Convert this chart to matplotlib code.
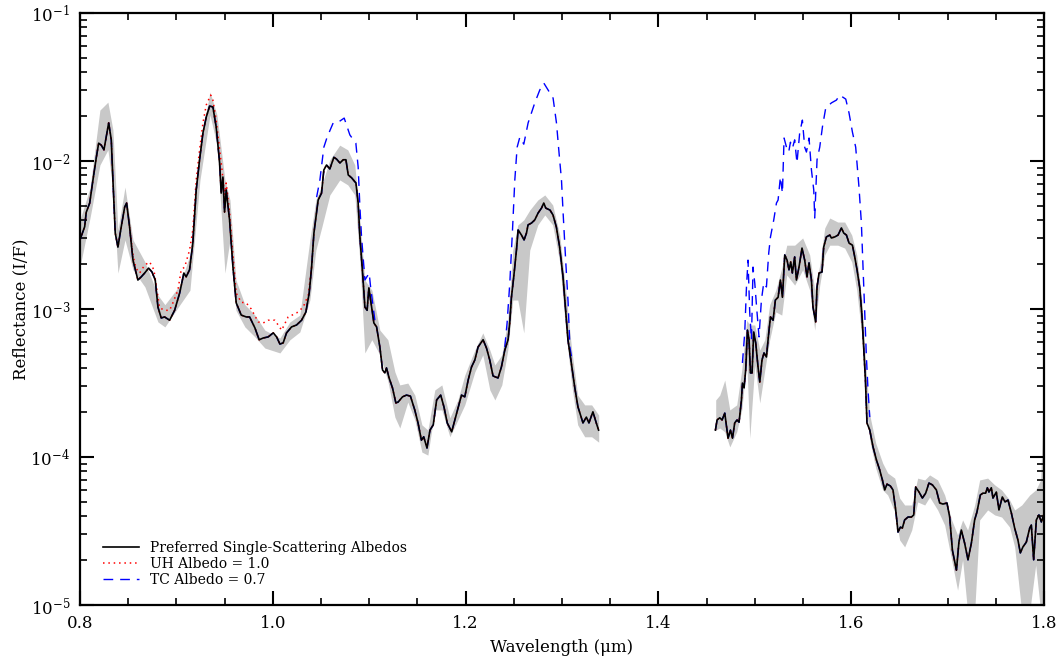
import numpy as np
import matplotlib.pyplot as plt
from matplotlib.ticker import MultipleLocator, LogLocator, NullFormatter, FormatStrFormatter

plt.rcParams['font.family'] = ['DejaVu Serif']
plt.rcParams['mathtext.fontset'] = 'dejavuserif'

# preferred single-scattering albedo model, short-wavelength window
wl_a = [0.8000, 0.8049, 0.8065, 0.8101, 0.8135, 0.8169, 0.8194, 0.8221, 0.8249, 0.8298,
        0.8325, 0.8342, 0.8366, 0.8394, 0.8428, 0.8464, 0.8484, 0.8515, 0.8550, 0.8601,
        0.8636, 0.8671, 0.8712, 0.8747, 0.8781, 0.8809, 0.8843, 0.8878, 0.8930, 0.8982,
        0.9034, 0.9078, 0.9102, 0.9137, 0.9171, 0.9206, 0.9241, 0.9276, 0.9310, 0.9345,
        0.9379, 0.9413, 0.9449, 0.9465, 0.9483, 0.9500, 0.9517, 0.9552, 0.9587, 0.9621,
        0.9673, 0.9725, 0.9760, 0.9815, 0.9859, 0.9901, 0.9953, 1.0005, 1.0040, 1.0074,
        1.0108, 1.0143, 1.0195, 1.0247, 1.0299, 1.0344, 1.0378, 1.0403, 1.0427, 1.0447,
        1.0471, 1.0506, 1.0530, 1.0558, 1.0592, 1.0634, 1.0662, 1.0697, 1.0731, 1.0759,
        1.0783, 1.0818, 1.0863, 1.0886, 1.0904, 1.0932, 1.0956, 1.0979, 1.0997, 1.1025,
        1.1049, 1.1077, 1.1111, 1.1139, 1.1163, 1.1180, 1.1207, 1.1242, 1.1277, 1.1300,
        1.1346, 1.1387, 1.1428, 1.1473, 1.1507, 1.1542, 1.1566, 1.1600, 1.1631, 1.1665,
        1.1700, 1.1742, 1.1776, 1.1810, 1.1856, 1.1908, 1.1958, 1.1992, 1.2027, 1.2062,
        1.2096, 1.2130, 1.2182, 1.2217, 1.2251, 1.2285, 1.2337, 1.2372, 1.2407, 1.2441,
        1.2458, 1.2476, 1.2500, 1.2528, 1.2545, 1.2580, 1.2607, 1.2632, 1.2648, 1.2684,
        1.2718, 1.2752, 1.2788, 1.2811, 1.2832, 1.2876, 1.2907, 1.2942, 1.2976, 1.3011,
        1.3038, 1.3062, 1.3097, 1.3132, 1.3166, 1.3218, 1.3253, 1.3280, 1.3321, 1.3356,
        1.3380]
refl_a = [2.93e-3, 3.6e-3, 4.5e-3, 5.2e-3, 7.45e-3, 1.05e-2, 1.32e-2, 1.28e-2, 1.19e-2, 1.81e-2,
          1.39e-2, 7.45e-3, 3.26e-3, 2.62e-3, 3.58e-3, 4.89e-3, 5.2e-3, 3.58e-3, 2.14e-3, 1.57e-3,
          1.65e-3, 1.75e-3, 1.89e-3, 1.78e-3, 1.57e-3, 1.03e-3, 8.7e-4, 8.84e-4, 8.4e-4, 9.8e-4,
          1.28e-3, 1.75e-3, 1.65e-3, 1.84e-3, 2.79e-3, 6.37e-3, 1.02e-2, 1.55e-2, 1.98e-2, 2.35e-2,
          2.32e-2, 1.70e-2, 9.7e-3, 6.07e-3, 7.8e-3, 4.52e-3, 6.37e-3, 4.0e-3, 1.92e-3, 1.10e-3,
          9.1e-4, 8.84e-4, 8.84e-4, 7.45e-4, 6.2e-4, 6.37e-4, 6.48e-4, 6.9e-4, 6.48e-4, 5.8e-4,
          5.9e-4, 6.9e-4, 7.57e-4, 7.8e-4, 8.4e-4, 9.56e-4, 1.28e-3, 1.92e-3, 3.26e-3, 4.12e-3,
          5.45e-3, 6.07e-3, 8.7e-3, 9.4e-3, 8.84e-3, 1.06e-2, 1.03e-2, 9.7e-3, 1.02e-2, 1.02e-2,
          8.05e-3, 7.7e-3, 7.1e-3, 5.2e-3, 3.07e-3, 1.75e-3, 1.03e-3, 9.8e-4, 1.39e-3, 1.03e-3,
          8.05e-4, 7.57e-4, 5.54e-4, 3.87e-4, 3.7e-4, 4.0e-4, 3.42e-4, 2.93e-4, 2.32e-4, 2.35e-4,
          2.55e-4, 2.62e-4, 2.58e-4, 2.08e-4, 1.70e-4, 1.30e-4, 1.37e-4, 1.15e-4, 1.52e-4, 1.65e-4,
          2.43e-4, 2.62e-4, 2.18e-4, 1.70e-4, 1.48e-4, 1.98e-4, 2.62e-4, 2.55e-4, 3.31e-4, 4.06e-4,
          4.52e-4, 5.54e-4, 6.2e-4, 5.45e-4, 4.52e-4, 3.53e-4, 3.42e-4, 4.06e-4, 5.28e-4, 6.2e-4,
          8.05e-4, 1.20e-3, 1.65e-3, 2.50e-3, 3.42e-3, 3.16e-3, 2.93e-3, 3.26e-3, 3.7e-3, 3.81e-3,
          4.0e-3, 4.45e-3, 4.81e-3, 5.2e-3, 4.81e-3, 4.66e-3, 4.32e-3, 3.58e-3, 2.62e-3, 1.65e-3,
          9.8e-4, 6.2e-4, 4.32e-4, 2.97e-4, 2.18e-4, 1.70e-4, 1.86e-4, 1.70e-4, 2.02e-4, 1.70e-4,
          1.52e-4]

# preferred model, long-wavelength window
wl_b = [1.4592, 1.4609, 1.4637, 1.4661, 1.4689, 1.4723, 1.4748, 1.4769, 1.4792, 1.4816,
        1.4837, 1.4862, 1.4872, 1.4889, 1.4906, 1.4924, 1.4941, 1.4955, 1.4972, 1.4989,
        1.5010, 1.5034, 1.5052, 1.5075, 1.5096, 1.5121, 1.5145, 1.5163, 1.5190, 1.5214,
        1.5242, 1.5266, 1.5287, 1.5311, 1.5335, 1.5355, 1.5373, 1.5390, 1.5414, 1.5432,
        1.5459, 1.5490, 1.5518, 1.5542, 1.5563, 1.5588, 1.5604, 1.5632, 1.5646, 1.5667,
        1.5698, 1.5715, 1.5743, 1.5778, 1.5795, 1.5830, 1.5864, 1.5899, 1.5923, 1.5951,
        1.5978, 1.6013, 1.6037, 1.6061, 1.6089, 1.6113, 1.6130, 1.6148, 1.6164, 1.6193,
        1.6227, 1.6262, 1.6296, 1.6324, 1.6348, 1.6372, 1.6407, 1.6434, 1.6462, 1.6486,
        1.6511, 1.6531, 1.6555, 1.6590, 1.6625, 1.6649, 1.6669, 1.6704, 1.6739, 1.6773,
        1.6807, 1.6843, 1.6884, 1.6918, 1.6952, 1.6994, 1.7022, 1.7050, 1.7092, 1.7118,
        1.7143, 1.7177, 1.7212, 1.7247, 1.7281, 1.7305, 1.7340, 1.7367, 1.7395, 1.7413,
        1.7429, 1.7454, 1.7471, 1.7506, 1.7533, 1.7568, 1.7596, 1.7627, 1.7662, 1.7696,
        1.7730, 1.7755, 1.7782, 1.7817, 1.7852, 1.7869, 1.7893, 1.7921, 1.7948, 1.7973,
        1.7997]
refl_b = [1.52e-4, 1.78e-4, 1.84e-4, 1.78e-4, 1.98e-4, 1.34e-4, 1.52e-4, 1.34e-4, 1.70e-4, 1.78e-4,
          1.72e-4, 2.43e-4, 3.16e-4, 2.93e-4, 3.87e-4, 7.2e-4, 6.2e-4, 3.7e-4, 3.7e-4, 7.0e-4,
          5.9e-4, 4.06e-4, 3.21e-4, 4.52e-4, 5.05e-4, 4.74e-4, 6.9e-4, 8.84e-4, 8.4e-4, 1.15e-3,
          1.20e-3, 1.57e-3, 1.20e-3, 2.32e-3, 2.14e-3, 1.84e-3, 2.08e-3, 1.75e-3, 2.25e-3, 1.57e-3,
          1.92e-3, 2.58e-3, 2.14e-3, 1.65e-3, 2.05e-3, 1.57e-3, 1.03e-3, 8.18e-4, 1.41e-3, 1.75e-3,
          1.78e-3, 2.62e-3, 3.07e-3, 3.16e-3, 3.02e-3, 3.07e-3, 3.16e-3, 3.53e-3, 3.26e-3, 3.16e-3,
          2.79e-3, 2.70e-3, 2.25e-3, 1.84e-3, 1.39e-3, 8.84e-4, 5.54e-4, 3.31e-4, 1.70e-4, 1.52e-4,
          1.17e-4, 9.56e-5, 8.18e-5, 7.0e-5, 5.99e-5, 6.56e-5, 6.37e-5, 5.99e-5, 4.39e-5, 3.11e-5,
          3.36e-5, 3.31e-5, 3.76e-5, 3.93e-5, 3.93e-5, 4.06e-5, 6.27e-5, 5.8e-5, 5.28e-5, 5.7e-5,
          6.67e-5, 6.48e-5, 5.99e-5, 4.89e-5, 4.81e-5, 4.89e-5, 3.93e-5, 2.35e-5, 1.72e-5, 2.66e-5,
          3.21e-5, 2.62e-5, 2.02e-5, 2.62e-5, 3.76e-5, 4.25e-5, 5.54e-5, 5.7e-5, 5.7e-5, 6.2e-5,
          5.8e-5, 6.2e-5, 5.28e-5, 5.8e-5, 4.39e-5, 5.37e-5, 4.97e-5, 5.12e-5, 4.18e-5, 3.31e-5,
          2.75e-5, 2.25e-5, 2.47e-5, 2.66e-5, 3.31e-5, 3.47e-5, 2.02e-5, 3.76e-5, 4.06e-5, 3.64e-5,
          4.06e-5]

# grey range of the data
band_wl_a = [0.8000, 0.8104, 0.8207, 0.8290, 0.8342, 0.8394, 0.8467, 0.8550, 0.8674, 0.8809,
             0.8881, 0.9037, 0.9141, 0.9245, 0.9349, 0.9421, 0.9504, 0.9556, 0.9618, 0.9711,
             0.9815, 0.9918, 1.0074, 1.0178, 1.0281, 1.0385, 1.0447, 1.0509, 1.0592, 1.0695,
             1.0778, 1.0851, 1.0903, 1.0955, 1.1028, 1.1111, 1.1194, 1.1267, 1.1318, 1.1401,
             1.1474, 1.1547, 1.1609, 1.1681, 1.1754, 1.1837, 1.1920, 1.1992, 1.2096, 1.2179,
             1.2252, 1.2304, 1.2376, 1.2438, 1.2490, 1.2542, 1.2604, 1.2666, 1.2749, 1.2822,
             1.2904, 1.2977, 1.3039, 1.3101, 1.3163, 1.3236, 1.3308, 1.3381]
band_hi_a = [4.0e-3, 6.56e-3, 2.21e-2, 2.50e-2, 1.62e-2, 3.42e-3, 6.67e-3, 2.93e-3, 2.08e-3, 1.24e-3,
             1.07e-3, 1.45e-3, 2.32e-3, 1.28e-2, 2.93e-2, 2.05e-2, 7.45e-3, 5.45e-3, 1.57e-3, 1.07e-3,
             9.1e-4, 7.2e-4, 6.37e-4, 8.18e-4, 9.1e-4, 2.93e-3, 5.45e-3, 6.9e-3, 1.02e-2, 1.28e-2,
             1.19e-2, 9.4e-3, 4.0e-3, 1.57e-3, 1.34e-3, 7.2e-4, 6.2e-4, 3.76e-4, 3.07e-4, 3.16e-4,
             2.62e-4, 1.65e-4, 1.52e-4, 2.84e-4, 3.07e-4, 1.84e-4, 2.43e-4, 3.58e-4, 5.28e-4, 6.9e-4,
             5.28e-4, 4.19e-4, 4.9e-4, 8.4e-4, 2.50e-3, 3.7e-3, 4.0e-3, 4.66e-3, 5.45e-3, 5.9e-3,
             5.05e-3, 3.16e-3, 1.34e-3, 5.28e-4, 2.62e-4, 2.25e-4, 2.25e-4, 1.92e-4]
band_lo_a = [1.92e-3, 4.12e-3, 9.4e-3, 1.19e-2, 6.37e-3, 1.75e-3, 2.93e-3, 1.84e-3, 1.41e-3, 8.18e-4,
             7.57e-4, 1.07e-3, 1.34e-3, 7.45e-3, 2.05e-2, 1.28e-2, 1.75e-3, 2.93e-3, 9.8e-4, 7.57e-4,
             6.48e-4, 5.45e-4, 5.05e-4, 6.2e-4, 7.0e-4, 1.15e-3, 2.50e-3, 3.58e-3, 5.9e-3, 7.45e-3,
             6.9e-3, 5.9e-3, 2.14e-3, 5.05e-4, 6.2e-4, 4.9e-4, 3.26e-4, 1.86e-4, 1.57e-4, 2.35e-4,
             1.78e-4, 1.08e-4, 1.03e-4, 2.08e-4, 2.08e-4, 1.37e-4, 1.78e-4, 2.25e-4, 3.76e-4, 4.9e-4,
             2.84e-4, 2.43e-4, 3.07e-4, 5.28e-4, 1.15e-3, 1.15e-3, 6.9e-4, 2.50e-3, 3.7e-3, 4.32e-3,
             3.7e-3, 2.08e-3, 7.2e-4, 3.07e-4, 1.65e-4, 1.37e-4, 1.37e-4, 1.26e-4]

band_wl_b = [1.4595, 1.4637, 1.4689, 1.4741, 1.4813, 1.4865, 1.4917, 1.4948, 1.5000, 1.5052,
             1.5104, 1.5155, 1.5218, 1.5280, 1.5332, 1.5414, 1.5497, 1.5570, 1.5622, 1.5674,
             1.5726, 1.5778, 1.5861, 1.5933, 1.6006, 1.6058, 1.6110, 1.6151, 1.6193, 1.6255,
             1.6327, 1.6379, 1.6452, 1.6503, 1.6555, 1.6628, 1.6690, 1.6763, 1.6814, 1.6897,
             1.6970, 1.7042, 1.7104, 1.7156, 1.7208, 1.7281, 1.7333, 1.7416, 1.7489, 1.7561,
             1.7644, 1.7696, 1.7769, 1.7852, 1.7914, 1.7966, 1.7997]
band_hi_b = [2.43e-4, 2.62e-4, 3.31e-4, 2.08e-4, 2.25e-4, 3.87e-4, 8.4e-4, 7.8e-4, 7.8e-4, 5.28e-4,
             6.2e-4, 1.07e-3, 1.34e-3, 1.89e-3, 2.70e-3, 2.70e-3, 3.02e-3, 2.32e-3, 1.34e-3, 1.98e-3,
             3.53e-3, 4.12e-3, 3.87e-3, 3.87e-3, 3.16e-3, 2.32e-3, 1.15e-3, 4.19e-4, 1.92e-4, 1.24e-4,
             9.1e-5, 7.8e-5, 7.2e-5, 5.28e-5, 4.74e-5, 4.74e-5, 7.2e-5, 7.0e-5, 7.57e-5, 7.0e-5,
             5.54e-5, 3.76e-5, 2.97e-5, 3.76e-5, 3.21e-5, 4.74e-5, 7.0e-5, 7.2e-5, 6.48e-5, 5.99e-5,
             5.12e-5, 4.39e-5, 4.74e-5, 5.54e-5, 5.99e-5, 7.0e-5, 2.97e-4]
band_lo_b = [1.52e-4, 1.57e-4, 1.48e-4, 1.17e-4, 1.48e-4, 2.08e-4, 4.52e-4, 1.34e-4, 4.19e-4, 2.32e-4,
             3.87e-4, 6.2e-4, 9.56e-4, 9.1e-4, 1.70e-3, 1.45e-3, 1.84e-3, 1.34e-3, 7.2e-4, 1.45e-3,
             2.32e-3, 2.70e-3, 2.70e-3, 2.58e-3, 2.08e-3, 1.34e-3, 6.67e-4, 2.43e-4, 1.30e-4, 8.4e-5,
             5.99e-5, 5.54e-5, 4.25e-5, 2.75e-5, 2.47e-5, 3.21e-5, 4.97e-5, 4.74e-5, 5.37e-5, 4.39e-5,
             3.47e-5, 2.02e-5, 1.26e-5, 2.02e-5, 9e-6, 9e-6, 3.76e-5, 4.39e-5, 4.06e-5, 3.93e-5,
             3.36e-5, 2.47e-5, 9e-6, 9e-6, 1.86e-5, 9e-6, 9e-6]

# UH albedo = 1.0, where it departs from the preferred model
uh_wl = [0.8515, 0.8550, 0.8580, 0.8619, 0.8671, 0.8723, 0.8767, 0.8799, 0.8826, 0.8878,
         0.8930, 0.8964, 0.9016, 0.9050, 0.9086, 0.9137, 0.9171, 0.9206, 0.9241, 0.9276,
         0.9310, 0.9356, 0.9379, 0.9413, 0.9449, 0.9472, 0.9500, 0.9517, 0.9552, 0.9587,
         0.9621, 0.9673, 0.9725, 0.9777, 0.9849, 0.9901, 0.9953, 1.0022, 1.0092, 1.0160,
         1.0247, 1.0316, 1.0368, 1.0403]
uh_refl = [3.58e-3, 2.32e-3, 1.89e-3, 1.75e-3, 1.98e-3, 2.08e-3, 1.84e-3, 1.34e-3, 1.02e-3, 9.8e-4,
           9.8e-4, 1.10e-3, 1.34e-3, 1.84e-3, 1.92e-3, 2.50e-3, 3.42e-3, 7.45e-3, 1.19e-2, 1.81e-2,
           2.39e-2, 2.79e-2, 2.58e-2, 1.89e-2, 1.19e-2, 8.9e-3, 5.9e-3, 7.1e-3, 4.52e-3, 2.32e-3,
           1.28e-3, 1.11e-3, 1.10e-3, 1.0e-3, 8.18e-4, 8.05e-4, 8.4e-4, 8.4e-4, 7.2e-4, 8.84e-4,
           9.4e-4, 1.03e-3, 1.24e-3, 1.92e-3]

# TC albedo = 0.7, the three continuum peaks
tc_wl_1 = [1.0455, 1.0489, 1.0530, 1.0564, 1.0627, 1.0679, 1.0741, 1.0800, 1.0862, 1.0886,
           1.0904, 1.0921, 1.0956, 1.1000, 1.1015, 1.1059]
tc_refl_1 = [5.7e-3, 7.45e-3, 1.24e-2, 1.45e-2, 1.81e-2, 1.83e-2, 1.95e-2, 1.50e-2, 1.32e-2, 9.1e-3,
             4.89e-3, 3.07e-3, 1.57e-3, 1.75e-3, 1.41e-3, 8.4e-4]
tc_wl_2 = [1.2407, 1.2431, 1.2459, 1.2487, 1.2511, 1.2535, 1.2563, 1.2604, 1.2649, 1.2718,
           1.2770, 1.2812, 1.2856, 1.2908, 1.2943, 1.2970, 1.2995, 1.3012, 1.3040, 1.3064,
           1.3082, 1.3110]
tc_refl_2 = [5.54e-4, 8.05e-4, 1.50e-3, 3.42e-3, 7.45e-3, 1.24e-2, 1.45e-2, 1.30e-2, 1.81e-2, 2.47e-2,
             3.02e-2, 3.36e-2, 3.02e-2, 2.66e-2, 1.81e-2, 1.13e-2, 7.45e-3, 4.45e-3, 2.05e-3, 1.10e-3,
             5.54e-4, 4.32e-4]
tc_wl_3 = [1.4872, 1.4896, 1.4914, 1.4930, 1.4948, 1.4966, 1.4982, 1.5000, 1.5024, 1.5044,
           1.5069, 1.5093, 1.5121, 1.5145, 1.5163, 1.5197, 1.5225, 1.5242, 1.5266, 1.5287,
           1.5304, 1.5329, 1.5352, 1.5370, 1.5391, 1.5414, 1.5438, 1.5466, 1.5494, 1.5518,
           1.5536, 1.5563, 1.5588, 1.5612, 1.5622, 1.5646, 1.5674, 1.5702, 1.5736, 1.5795,
           1.5847, 1.5881, 1.5944, 1.5978, 1.6013, 1.6047, 1.6081, 1.6106, 1.6123, 1.6141,
           1.6158, 1.6175, 1.6193]
tc_refl_3 = [4.32e-4, 6.9e-4, 1.41e-3, 2.14e-3, 9.4e-4, 6.2e-4, 1.92e-3, 1.50e-3, 9.4e-4, 6.48e-4,
             1.15e-3, 1.50e-3, 1.41e-3, 2.39e-3, 3.07e-3, 4.0e-3, 5.2e-3, 5.45e-3, 7.8e-3, 6.07e-3,
             1.43e-2, 1.24e-2, 1.15e-2, 1.34e-2, 1.22e-2, 1.39e-2, 9.7e-3, 1.55e-2, 1.89e-2, 1.24e-2,
             1.15e-2, 1.43e-2, 8.7e-3, 6.37e-3, 4.12e-3, 1.02e-2, 1.24e-2, 1.70e-2, 2.28e-2, 2.47e-2,
             2.58e-2, 2.79e-2, 2.62e-2, 2.11e-2, 1.57e-2, 1.24e-2, 6.67e-3, 3.81e-3, 1.92e-3, 9.4e-4,
             4.74e-4, 2.84e-4, 1.86e-4]

fig = plt.figure(figsize=(10.59, 6.61), dpi=100)
ax = fig.add_axes([0.0755, 0.0847, 0.9103, 0.8956])

grey = '#c8c8c8'
ax.fill_between(band_wl_a, band_lo_a, band_hi_a, color=grey, lw=0, zorder=1)
ax.fill_between(band_wl_b, band_lo_b, band_hi_b, color=grey, lw=0, zorder=1)

blue_ls = (0, (7, 5))
red_ls = (0, (1, 2.5))
for w, r in [(wl_a, refl_a), (wl_b, refl_b)]:
    ax.plot(w, r, color='blue', ls=blue_ls, lw=1.0, zorder=2)
    ax.plot(w, r, color='red', ls=red_ls, lw=1.1, zorder=3)
tc_line, = ax.plot(tc_wl_1, tc_refl_1, color='blue', ls=blue_ls, lw=1.0, zorder=2,
                   label='TC Albedo = 0.7')
ax.plot(tc_wl_2, tc_refl_2, color='blue', ls=blue_ls, lw=1.0, zorder=2)
ax.plot(tc_wl_3, tc_refl_3, color='blue', ls=blue_ls, lw=1.0, zorder=2)
uh_line, = ax.plot(uh_wl, uh_refl, color='red', ls=red_ls, lw=1.1, zorder=3,
                   label='UH Albedo = 1.0')
pref_line, = ax.plot(wl_a, refl_a, color='black', lw=1.2, zorder=4,
                     label='Preferred Single-Scattering Albedos')
ax.plot(wl_b, refl_b, color='black', lw=1.2, zorder=4)

ax.set_yscale('log')
ax.set_xlim(0.8, 1.8)
ax.set_ylim(1e-5, 1e-1)

ax.xaxis.set_major_locator(MultipleLocator(0.2))
ax.xaxis.set_minor_locator(MultipleLocator(0.05))
ax.xaxis.set_major_formatter(FormatStrFormatter('%.1f'))
ax.yaxis.set_major_locator(LogLocator(base=10, numticks=10))
ax.yaxis.set_minor_locator(LogLocator(base=10, subs=np.arange(2, 10), numticks=10))
ax.yaxis.set_minor_formatter(NullFormatter())

ax.tick_params(which='both', direction='in', top=True, right=True, labelsize=12)
ax.tick_params(which='major', length=10, width=1.5, pad=7)
ax.tick_params(which='minor', length=5, width=1.2)
for s in ax.spines.values():
    s.set_linewidth(1.6)

ax.set_xlabel('Wavelength (μm)', fontsize=12, labelpad=5)
ax.set_ylabel('Reflectance (I/F)', fontsize=12)
ax.yaxis.set_label_coords(-0.052, 0.5)

ax.legend(handles=[pref_line, uh_line, tc_line], loc='lower left',
          bbox_to_anchor=(0.024, 0.03), frameon=False, fontsize=10,
          borderpad=0, borderaxespad=0, handlelength=2.6, handletextpad=0.8,
          labelspacing=0.15)

fig.savefig('out.png', dpi=100)
